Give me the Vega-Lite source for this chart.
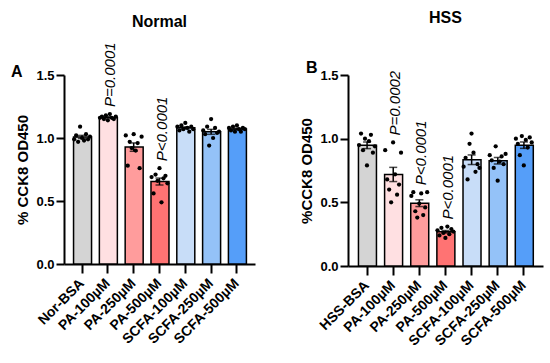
{
  "$schema": "https://vega.github.io/schema/vega-lite/v6.json",
  "padding": {"left": 10, "top": 10, "right": 5, "bottom": 5},
  "background": "white",
  "datasets": {
    "normal": [
      {"group":"Nor-BSA","rep":1,"value":0.99},{"group":"Nor-BSA","rep":2,"value":1.02},{"group":"Nor-BSA","rep":3,"value":0.97},{"group":"Nor-BSA","rep":4,"value":1.09},{"group":"Nor-BSA","rep":5,"value":1.00},{"group":"Nor-BSA","rep":6,"value":0.98},{"group":"Nor-BSA","rep":7,"value":1.03},{"group":"Nor-BSA","rep":8,"value":0.99},{"group":"Nor-BSA","rep":9,"value":1.01},
      {"group":"PA-100µM","rep":1,"value":1.16},{"group":"PA-100µM","rep":2,"value":1.17},{"group":"PA-100µM","rep":3,"value":1.15},{"group":"PA-100µM","rep":4,"value":1.18},{"group":"PA-100µM","rep":5,"value":1.14},{"group":"PA-100µM","rep":6,"value":1.19},{"group":"PA-100µM","rep":7,"value":1.16},{"group":"PA-100µM","rep":8,"value":1.15},{"group":"PA-100µM","rep":9,"value":1.17},
      {"group":"PA-250µM","rep":1,"value":1.02},{"group":"PA-250µM","rep":2,"value":0.78},{"group":"PA-250µM","rep":3,"value":0.97},{"group":"PA-250µM","rep":4,"value":0.92},{"group":"PA-250µM","rep":5,"value":1.03},{"group":"PA-250µM","rep":6,"value":0.90},{"group":"PA-250µM","rep":7,"value":0.96},{"group":"PA-250µM","rep":8,"value":0.76},{"group":"PA-250µM","rep":9,"value":1.01},
      {"group":"PA-500µM","rep":1,"value":0.69},{"group":"PA-500µM","rep":2,"value":0.56},{"group":"PA-500µM","rep":3,"value":0.71},{"group":"PA-500µM","rep":4,"value":0.66},{"group":"PA-500µM","rep":5,"value":0.76},{"group":"PA-500µM","rep":6,"value":0.49},{"group":"PA-500µM","rep":7,"value":0.68},{"group":"PA-500µM","rep":8,"value":0.70},{"group":"PA-500µM","rep":9,"value":0.64},
      {"group":"SCFA-100µM","rep":1,"value":1.09},{"group":"SCFA-100µM","rep":2,"value":1.06},{"group":"SCFA-100µM","rep":3,"value":1.10},{"group":"SCFA-100µM","rep":4,"value":1.07},{"group":"SCFA-100µM","rep":5,"value":1.12},{"group":"SCFA-100µM","rep":6,"value":1.08},{"group":"SCFA-100µM","rep":7,"value":1.05},{"group":"SCFA-100µM","rep":8,"value":1.09},{"group":"SCFA-100µM","rep":9,"value":1.07},
      {"group":"SCFA-250µM","rep":1,"value":1.06},{"group":"SCFA-250µM","rep":2,"value":1.03},{"group":"SCFA-250µM","rep":3,"value":1.09},{"group":"SCFA-250µM","rep":4,"value":0.94},{"group":"SCFA-250µM","rep":5,"value":1.15},{"group":"SCFA-250µM","rep":6,"value":1.00},{"group":"SCFA-250µM","rep":7,"value":1.08},{"group":"SCFA-250µM","rep":8,"value":1.04},{"group":"SCFA-250µM","rep":9,"value":1.05},
      {"group":"SCFA-500µM","rep":1,"value":1.08},{"group":"SCFA-500µM","rep":2,"value":1.06},{"group":"SCFA-500µM","rep":3,"value":1.09},{"group":"SCFA-500µM","rep":4,"value":1.05},{"group":"SCFA-500µM","rep":5,"value":1.10},{"group":"SCFA-500µM","rep":6,"value":1.07},{"group":"SCFA-500µM","rep":7,"value":1.05},{"group":"SCFA-500µM","rep":8,"value":1.08},{"group":"SCFA-500µM","rep":9,"value":1.07}
    ],
    "hss": [
      {"group":"HSS-BSA","rep":1,"value":0.95},{"group":"HSS-BSA","rep":2,"value":1.04},{"group":"HSS-BSA","rep":3,"value":0.91},{"group":"HSS-BSA","rep":4,"value":1.00},{"group":"HSS-BSA","rep":5,"value":0.79},{"group":"HSS-BSA","rep":6,"value":0.98},{"group":"HSS-BSA","rep":7,"value":1.03},{"group":"HSS-BSA","rep":8,"value":0.89},{"group":"HSS-BSA","rep":9,"value":0.94},
      {"group":"PA-100µM","rep":1,"value":0.91},{"group":"PA-100µM","rep":2,"value":0.68},{"group":"PA-100µM","rep":3,"value":0.60},{"group":"PA-100µM","rep":4,"value":0.50},{"group":"PA-100µM","rep":5,"value":0.97},{"group":"PA-100µM","rep":6,"value":0.72},{"group":"PA-100µM","rep":7,"value":0.56},{"group":"PA-100µM","rep":8,"value":0.64},{"group":"PA-100µM","rep":9,"value":0.89},
      {"group":"PA-250µM","rep":1,"value":0.55},{"group":"PA-250µM","rep":2,"value":0.58},{"group":"PA-250µM","rep":3,"value":0.43},{"group":"PA-250µM","rep":4,"value":0.38},{"group":"PA-250µM","rep":5,"value":0.49},{"group":"PA-250µM","rep":6,"value":0.57},{"group":"PA-250µM","rep":7,"value":0.40},{"group":"PA-250µM","rep":8,"value":0.46},{"group":"PA-250µM","rep":9,"value":0.58},
      {"group":"PA-500µM","rep":1,"value":0.28},{"group":"PA-500µM","rep":2,"value":0.24},{"group":"PA-500µM","rep":3,"value":0.30},{"group":"PA-500µM","rep":4,"value":0.26},{"group":"PA-500µM","rep":5,"value":0.22},{"group":"PA-500µM","rep":6,"value":0.31},{"group":"PA-500µM","rep":7,"value":0.25},{"group":"PA-500µM","rep":8,"value":0.29},{"group":"PA-500µM","rep":9,"value":0.27},
      {"group":"SCFA-100µM","rep":1,"value":0.78},{"group":"SCFA-100µM","rep":2,"value":0.85},{"group":"SCFA-100µM","rep":3,"value":0.68},{"group":"SCFA-100µM","rep":4,"value":0.96},{"group":"SCFA-100µM","rep":5,"value":1.04},{"group":"SCFA-100µM","rep":6,"value":0.89},{"group":"SCFA-100µM","rep":7,"value":0.74},{"group":"SCFA-100µM","rep":8,"value":0.80},{"group":"SCFA-100µM","rep":9,"value":0.77},
      {"group":"SCFA-250µM","rep":1,"value":0.87},{"group":"SCFA-250µM","rep":2,"value":0.83},{"group":"SCFA-250µM","rep":3,"value":0.77},{"group":"SCFA-250µM","rep":4,"value":0.94},{"group":"SCFA-250µM","rep":5,"value":0.67},{"group":"SCFA-250µM","rep":6,"value":0.82},{"group":"SCFA-250µM","rep":7,"value":0.86},{"group":"SCFA-250µM","rep":8,"value":0.80},{"group":"SCFA-250µM","rep":9,"value":0.88},
      {"group":"SCFA-500µM","rep":1,"value":1.00},{"group":"SCFA-500µM","rep":2,"value":0.96},{"group":"SCFA-500µM","rep":3,"value":0.87},{"group":"SCFA-500µM","rep":4,"value":1.02},{"group":"SCFA-500µM","rep":5,"value":0.79},{"group":"SCFA-500µM","rep":6,"value":0.99},{"group":"SCFA-500µM","rep":7,"value":0.93},{"group":"SCFA-500µM","rep":8,"value":1.01},{"group":"SCFA-500µM","rep":9,"value":0.97}
    ],
    "pnormal": [{"group":"PA-100µM","label":"P=0.0001"},{"group":"PA-500µM","label":"P<0.0001"}],
    "phss": [{"group":"PA-100µM","label":"P=0.0002"},{"group":"PA-250µM","label":"P<0.0001"},{"group":"PA-500µM","label":"P<0.0001"}]
  },
  "config": {
    "font": "Liberation Sans",
    "view": {"stroke": null},
    "axis": {"domainColor": "black", "domainWidth": 2, "tickColor": "black", "tickWidth": 2, "labelColor": "black", "labelFont": "Liberation Sans", "labelFontWeight": "bold", "titleFont": "Liberation Sans", "titleColor": "black", "titleFontWeight": "bold", "grid": false},
    "title": {"font": "Liberation Sans", "fontWeight": "bold", "color": "black"}
  },
  "spacing": 44,
  "resolve": {"scale": {"color": "independent"}},
  "hconcat": [
    {
      "title": {"text": "A", "anchor": "start", "frame": "bounds", "offset": -79, "fontSize": 16, "baseline": "alphabetic", "dx": -5},
      "vconcat": [
        {
          "title": {"text": "Normal", "frame": "group", "anchor": "middle", "offset": -1, "fontSize": 16, "baseline": "alphabetic"},
          "width": 191,
          "height": 189,
          "data": {"name": "normal"},
          "encoding": {
            "x": {"field": "group", "type": "nominal", "sort": ["Nor-BSA","PA-100µM","PA-250µM","PA-500µM","SCFA-100µM","SCFA-250µM","SCFA-500µM"], "scale": {"paddingInner": 0.34, "paddingOuter": 0.37}, "axis": {"title": null, "labelAngle": -45, "labelFontSize": 14, "tickSize": 9, "labelPadding": 8, "labelAlign": "right", "labelBaseline": "middle"}}
          },
          "layer": [
            {
              "mark": {"type": "bar", "stroke": "black", "strokeWidth": 1.5},
              "encoding": {
                "y": {"aggregate": "mean", "field": "value", "type": "quantitative", "title": "% CCK8 OD450", "scale": {"domain": [0, 1.5], "nice": false}, "axis": {"values": [0, 0.5, 1, 1.5], "format": ".1f", "titleFontSize": 15, "labelFontSize": 13, "tickSize": 8, "titlePadding": 5}},
                "color": {"field": "group", "type": "nominal", "scale": {"domain": ["Nor-BSA","PA-100µM","PA-250µM","PA-500µM","SCFA-100µM","SCFA-250µM","SCFA-500µM"], "range": ["#d4d4d4","#ffe0e2","#ff9c9c","#ff7373","#c8ddf8","#94c2f8","#559ef9"]}, "legend": null}
              }
            },
            {
              "mark": {"type": "errorbar", "extent": "stderr", "ticks": {"size": 8}, "color": "black", "thickness": 1.5},
              "encoding": {"y": {"field": "value", "type": "quantitative", "title": "% CCK8 OD450"}}
            },
            {
              "mark": {"type": "circle", "size": 18, "color": "black", "opacity": 1},
              "encoding": {"y": {"field": "value", "type": "quantitative", "title": "% CCK8 OD450"}, "xOffset": {"field": "rep", "type": "nominal", "scale": {"paddingOuter": 0.3}}}
            },
            {
              "transform": [
                {"aggregate": [{"op": "max", "field": "value", "as": "top"}], "groupby": ["group"]},
                {"lookup": "group", "from": {"data": {"name": "pnormal"}, "key": "group", "fields": ["label"]}},
                {"filter": "isValid(datum.label)"}
              ],
              "mark": {"type": "text", "angle": 270, "align": "left", "baseline": "middle", "dx": 7, "dy": 2, "fontSize": 15, "fontStyle": "italic", "color": "black"},
              "encoding": {"y": {"field": "top", "type": "quantitative", "title": "% CCK8 OD450"}, "text": {"field": "label"}}
            }
          ]
        }
      ]
    },
    {
      "title": {"text": "B", "anchor": "start", "frame": "bounds", "offset": -79, "fontSize": 16, "baseline": "alphabetic", "dx": 6},
      "vconcat": [
        {
          "title": {"text": "HSS", "frame": "group", "anchor": "middle", "offset": 30, "fontSize": 16, "baseline": "alphabetic"},
          "width": 195,
          "height": 191,
          "data": {"name": "hss"},
          "encoding": {
            "x": {"field": "group", "type": "nominal", "sort": ["HSS-BSA","PA-100µM","PA-250µM","PA-500µM","SCFA-100µM","SCFA-250µM","SCFA-500µM"], "scale": {"paddingInner": 0.34, "paddingOuter": 0.4}, "axis": {"title": null, "labelAngle": -45, "labelFontSize": 14, "tickSize": 9, "labelPadding": 8, "labelAlign": "right", "labelBaseline": "middle"}}
          },
          "layer": [
            {
              "mark": {"type": "bar", "stroke": "black", "strokeWidth": 1.5},
              "encoding": {
                "y": {"aggregate": "mean", "field": "value", "type": "quantitative", "title": "%CCK8 OD450", "scale": {"domain": [0, 1.5], "nice": false}, "axis": {"values": [0, 0.5, 1, 1.5], "format": ".1f", "titleFontSize": 15, "labelFontSize": 13, "tickSize": 8, "titlePadding": 5}},
                "color": {"field": "group", "type": "nominal", "scale": {"domain": ["HSS-BSA","PA-100µM","PA-250µM","PA-500µM","SCFA-100µM","SCFA-250µM","SCFA-500µM"], "range": ["#d4d4d4","#ffe0e2","#ff9c9c","#ff7373","#c8ddf8","#94c2f8","#559ef9"]}, "legend": null}
              }
            },
            {
              "mark": {"type": "errorbar", "extent": "stderr", "ticks": {"size": 8}, "color": "black", "thickness": 1.5},
              "encoding": {"y": {"field": "value", "type": "quantitative", "title": "%CCK8 OD450"}}
            },
            {
              "mark": {"type": "circle", "size": 18, "color": "black", "opacity": 1},
              "encoding": {"y": {"field": "value", "type": "quantitative", "title": "%CCK8 OD450"}, "xOffset": {"field": "rep", "type": "nominal", "scale": {"paddingOuter": 0.3}}}
            },
            {
              "transform": [
                {"aggregate": [{"op": "max", "field": "value", "as": "top"}], "groupby": ["group"]},
                {"lookup": "group", "from": {"data": {"name": "phss"}, "key": "group", "fields": ["label"]}},
                {"filter": "isValid(datum.label)"}
              ],
              "mark": {"type": "text", "angle": 270, "align": "left", "baseline": "middle", "dx": 7, "dy": 2, "fontSize": 15, "fontStyle": "italic", "color": "black"},
              "encoding": {"y": {"field": "top", "type": "quantitative", "title": "%CCK8 OD450"}, "text": {"field": "label"}}
            }
          ]
        }
      ]
    }
  ]
}
